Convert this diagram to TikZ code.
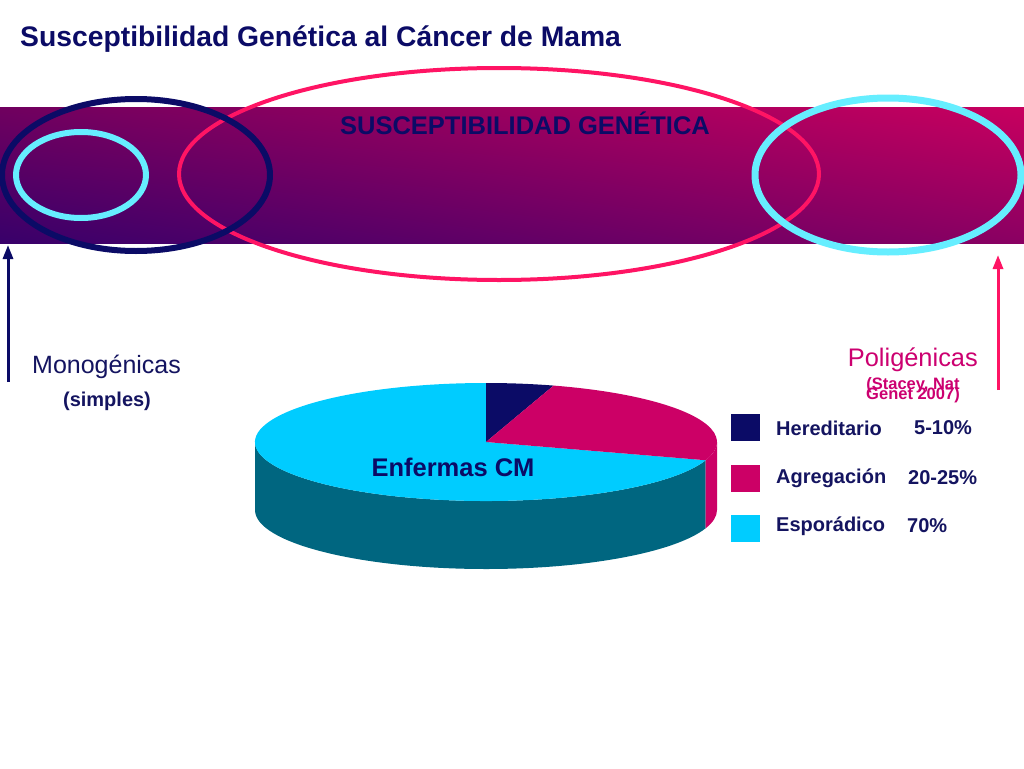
\documentclass[tikz,border=0pt]{standalone}
\usepackage{fontspec}
\setmainfont{Liberation Sans}
\usetikzlibrary{arrows.meta,shadings}
\definecolor{navy}{HTML}{0B0B66}
\definecolor{txtnavy}{HTML}{141460}
\definecolor{hotpink}{HTML}{FF1464}
\definecolor{magpie}{HTML}{CC0066}
\definecolor{cyanpie}{HTML}{00CCFF}
\definecolor{tealside}{HTML}{006680}
\definecolor{ringcyan}{HTML}{66EEFF}
\definecolor{polytxt}{HTML}{CC0070}
\definecolor{bandLL}{HTML}{38006A}
\definecolor{bandUL}{HTML}{70005F}
\definecolor{bandLR}{HTML}{8A0062}
\definecolor{bandUR}{HTML}{C8005F}
\tikzset{
  txt/.style={inner sep=0pt, font=\fontsize{20}{24}\selectfont\bfseries, text=txtnavy},
  legbox/.style={minimum width=29pt, minimum height=27pt, inner sep=0pt},
}
\begin{document}
\begin{tikzpicture}[x=1pt,y=-1pt]
\useasboundingbox[fill=white] (0,0) rectangle (1024,768);
% title
\node[inner sep=0pt, anchor=base west, font=\fontsize{28.3}{32}\selectfont\bfseries, text=navy] (title) at (20,46) {Susceptibilidad Genética al Cáncer de Mama};
% band
\shade[lower left=bandLL, upper left=bandUL, lower right=bandLR, upper right=bandUR] (0,243) rectangle (1024,107);
\node[inner sep=0pt, font=\fontsize{25.5}{28}\selectfont\bfseries, text=navy] (band) at (525,123) {SUSCEPTIBILIDAD GENÉTICA};
% rings
\draw[hotpink, line width=4pt] (499,174) ellipse [x radius=320, y radius=106];
\draw[navy, line width=6pt] (136,175) ellipse [x radius=134, y radius=76];
\draw[ringcyan, line width=6pt] (81,175) ellipse [x radius=65, y radius=43];
\draw[ringcyan, line width=7pt] (888,175) ellipse [x radius=133, y radius=77];
% arrows
\coordinate (la0) at (8,382);
\coordinate (la1) at (8,245);
\coordinate (ra0) at (998,390);
\coordinate (ra1) at (998,255);
\draw[navy, line width=3pt, -{Triangle[width=10pt,length=14pt]}] (la0) -- (la1);
\draw[hotpink, line width=3pt, -{Triangle[width=10pt,length=14pt]}] (ra0) -- (ra1);
% labels
\node[inner sep=0pt, anchor=west, font=\fontsize{25}{28}\selectfont, text=txtnavy] (mono) at (32,367) {Monogénicas};
\node[txt] (simp) at (107,401) {(simples)};
\node[inner sep=0pt, anchor=east, font=\fontsize{25.4}{28}\selectfont, text=polytxt] (poly) at (978,360) {Poligénicas};
\node[inner sep=0pt, font=\fontsize{16.5}{18}\selectfont\bfseries, text=polytxt] (ref1) at (913,385) {(Stacey, Nat};
\node[inner sep=0pt, font=\fontsize{16.5}{18}\selectfont\bfseries, text=polytxt] (ref2) at (913,395) {Genet 2007)};
% pie
\begin{scope}[shift={(486,442)}]
\fill[tealside] (18:231 and 59) arc[start angle=18, end angle=180, x radius=231, y radius=59] -- ++(0,68) arc[start angle=180, end angle=18, x radius=231, y radius=59] -- cycle;
\fill[magpie] (0:231 and 59) arc[start angle=0, end angle=18, x radius=231, y radius=59] -- ++(0,68) arc[start angle=18, end angle=0, x radius=231, y radius=59] -- cycle;
\fill[cyanpie] (0,0) -- (18:231 and 59) arc[start angle=18, end angle=270, x radius=231, y radius=59] -- cycle;
\fill[navy] (0,0) -- (270:231 and 59) arc[start angle=270, end angle=287, x radius=231, y radius=59] -- cycle;
\fill[magpie] (0,0) -- (287:231 and 59) arc[start angle=287, end angle=378, x radius=231, y radius=59] -- cycle;
\end{scope}
\node[inner sep=0pt, font=\fontsize{25.5}{28}\selectfont\bfseries, text=navy] (pielbl) at (453,467) {Enfermas CM};
% legend
\node[legbox, fill=navy] (k1) at (745,427) {};
\node[legbox, fill=magpie] (k2) at (745,478) {};
\node[legbox, fill=cyanpie] (k3) at (745,528) {};
\node[txt, anchor=west] (t1) at (776,428) {Hereditario};
\node[txt, anchor=west] (p1) at (914,428) {5-10\%};
\node[txt, anchor=west] (t2) at (776,478) {Agregación};
\node[txt, anchor=west] (p2) at (908,478) {20-25\%};
\node[txt, anchor=west] (t3) at (776,526) {Esporádico};
\node[txt, anchor=west] (p3) at (907,526) {70\%};
\end{tikzpicture}
\end{document}
